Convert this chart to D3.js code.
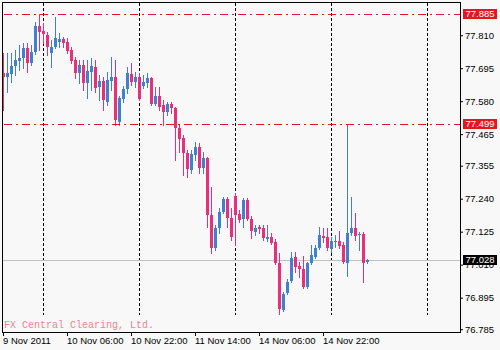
<!DOCTYPE html>
<html>
<head>
<meta charset="utf-8">
<script src="https://cdnjs.cloudflare.com/ajax/libs/d3/7.8.5/d3.min.js"></script>
<style>
  body { margin: 0; background: #f8f8f8; }
  svg { display: block; }
</style>
</head>
<body>
<svg id="chart"></svg>
<script>
// USDJPY H1, one bar per hour starting 9 Nov 2011 14:00
const opens = [
  77.677, 77.664, 77.674, 77.702, 77.719, 77.730, 77.765, 77.712, 77.751, 77.841,
  77.824, 77.810, 77.747, 77.768, 77.786, 77.796, 77.786, 77.758, 77.723, 77.677,
  77.705, 77.643, 77.681, 77.698, 77.629, 77.650, 77.576, 77.650, 77.664, 77.507,
  77.587, 77.622, 77.674, 77.646, 77.664, 77.632, 77.643, 77.660, 77.569, 77.597,
  77.566, 77.541, 77.569, 77.555, 77.486, 77.451, 77.398, 77.339, 77.392, 77.419,
  77.346, 77.381, 77.182, 77.067, 77.137, 77.193, 77.238, 77.172, 77.249, 77.186,
  77.168, 77.235, 77.168, 77.123, 77.140, 77.137, 77.099, 77.106, 77.088, 77.015,
  76.851, 76.910, 76.952, 77.036, 77.004, 76.994, 76.931, 77.015, 77.036, 77.067,
  77.109, 77.106, 77.064, 77.088, 77.092, 77.078, 77.015, 77.120, 77.137, 77.113,
  77.116, 77.018
];
const highs = [
  77.747, 77.747, 77.747, 77.758, 77.775, 77.782, 77.782, 77.775, 77.855, 77.885,
  77.852, 77.820, 77.793, 77.873, 77.817, 77.803, 77.800, 77.768, 77.733, 77.723,
  77.723, 77.723, 77.730, 77.723, 77.670, 77.664, 77.681, 77.733, 77.723, 77.597,
  77.632, 77.698, 77.712, 77.681, 77.677, 77.670, 77.677, 77.664, 77.629, 77.629,
  77.583, 77.576, 77.576, 77.559, 77.496, 77.461, 77.409, 77.409, 77.437, 77.433,
  77.402, 77.385, 77.280, 77.147, 77.207, 77.245, 77.245, 77.207, 77.259, 77.200,
  77.242, 77.242, 77.179, 77.147, 77.147, 77.147, 77.147, 77.120, 77.099, 77.050,
  76.914, 76.959, 77.053, 77.053, 77.018, 77.039, 77.018, 77.078, 77.078, 77.140,
  77.137, 77.137, 77.106, 77.113, 77.127, 77.088, 77.499, 77.245, 77.189, 77.123,
  77.123, 77.030
];
const lows = [
  77.548, 77.611, 77.646, 77.670, 77.688, 77.695, 77.681, 77.705, 77.744, 77.758,
  77.782, 77.740, 77.698, 77.765, 77.768, 77.768, 77.747, 77.712, 77.660, 77.643,
  77.618, 77.590, 77.618, 77.611, 77.583, 77.548, 77.566, 77.618, 77.496, 77.496,
  77.576, 77.608, 77.636, 77.629, 77.583, 77.625, 77.629, 77.566, 77.566, 77.548,
  77.496, 77.531, 77.538, 77.374, 77.402, 77.322, 77.315, 77.329, 77.374, 77.329,
  77.329, 77.140, 77.050, 77.060, 77.120, 77.189, 77.140, 77.095, 77.078, 77.158,
  77.140, 77.165, 77.102, 77.113, 77.120, 77.095, 77.092, 77.081, 77.011, 76.837,
  76.848, 76.907, 76.949, 76.984, 76.966, 76.928, 76.928, 77.011, 77.032, 77.064,
  77.088, 77.060, 77.053, 77.071, 77.067, 77.015, 76.970, 77.113, 77.095, 77.060,
  76.949, 77.016
];
const closes = [
  77.664, 77.677, 77.702, 77.723, 77.730, 77.765, 77.712, 77.751, 77.841, 77.820,
  77.813, 77.768, 77.768, 77.800, 77.796, 77.782, 77.754, 77.719, 77.677, 77.705,
  77.643, 77.684, 77.702, 77.625, 77.650, 77.583, 77.653, 77.664, 77.514, 77.590,
  77.622, 77.677, 77.646, 77.664, 77.587, 77.646, 77.660, 77.569, 77.597, 77.559,
  77.541, 77.569, 77.555, 77.486, 77.447, 77.398, 77.343, 77.395, 77.419, 77.346,
  77.381, 77.182, 77.067, 77.137, 77.193, 77.238, 77.172, 77.106, 77.182, 77.165,
  77.235, 77.168, 77.127, 77.137, 77.134, 77.102, 77.106, 77.085, 77.015, 76.855,
  76.907, 76.949, 77.032, 77.001, 76.994, 76.931, 77.015, 77.043, 77.067, 77.113,
  77.102, 77.067, 77.092, 77.092, 77.074, 77.018, 77.120, 77.137, 77.109, 77.116,
  77.015, 77.028
];

// price axis
const yTicks = [77.810, 77.695, 77.580, 77.465, 77.355, 77.240, 77.125, 77.010, 76.895, 76.785];

// time axis: bar index of each label
const xTickBars = [0, 16, 32, 48, 64, 80];
const xTickLabels = ["9 Nov 2011", "10 Nov 06:00", "10 Nov 22:00", "11 Nov 14:00", "14 Nov 06:00", "14 Nov 22:00"];

// day separators (bar index of 00:00)
const gridBars = [10, 34, 58, 82, 106];

// horizontal lines drawn on the chart
const levelPrices = [77.885, 77.499];
const bidPrice = 77.028;

const watermark = "FX Central Clearing, Ltd.";


class CandleChart {

  constructor(_config) {
    this.config = {
      parentElement: _config.parentElement,
      containerWidth: _config.containerWidth || 500,
      containerHeight: _config.containerHeight || 350
    }
    this.initVis();
  }

  initVis() {
    let vis = this;

    vis.svg = d3.select(vis.config.parentElement)
        .attr("width", vis.config.containerWidth)
        .attr("height", vis.config.containerHeight)
        .style("font-family", "'Liberation Sans', Arial, sans-serif");

    // plot box, in pixels
    vis.left = 2.5;
    vis.right = 460.5;
    vis.top = 2.5;
    vis.bottom = 332.5;

    vis.bars = opens.map((o, i) => ({ i: i, o: o, h: highs[i], l: lows[i], c: closes[i] }));

    // 4 px per hourly bar
    vis.xScale = d3.scaleLinear()
      .domain([0, 114])
      .range([3, 459]);

    vis.yScale = d3.scaleLinear()
      .domain([76.785, 77.810])
      .range([329.2, 35.2]);

    vis.render();
  }

  render() {
    let vis = this;
    const x = vis.xScale, y = vis.yScale;

    vis.svg.append("rect")
        .attr("width", vis.config.containerWidth)
        .attr("height", vis.config.containerHeight)
        .attr("fill", "#f8f8f8");

    vis.svg.append("defs").append("clipPath").attr("id", "plot-clip")
      .append("rect")
        .attr("x", vis.left).attr("y", vis.top)
        .attr("width", vis.right - vis.left).attr("height", vis.bottom - vis.top);

    // day separators
    vis.svg.selectAll(".grid")
      .data(gridBars)
      .join("line")
        .attr("class", "grid")
        .attr("x1", d => x(d) + 0.5)
        .attr("x2", d => x(d) + 0.5)
        .attr("y1", 3)
        .attr("y2", 315)
        .attr("stroke", "#000")
        .attr("stroke-dasharray", "3,2");

    // watermark
    vis.svg.append("text")
        .attr("x", 4)
        .attr("y", 328)
        .style("font-family", "'Liberation Mono', 'Courier New', monospace")
        .style("font-size", "10px")
        .attr("fill", "#e8868f")
        .text(watermark);

    // bid line
    vis.svg.append("line")
        .attr("x1", vis.left).attr("x2", vis.right)
        .attr("y1", Math.round(y(bidPrice)) + 0.5)
        .attr("y2", Math.round(y(bidPrice)) + 0.5)
        .attr("stroke", "#c0c0c0");

    // candles
    const plot = vis.svg.append("g").attr("clip-path", "url(#plot-clip)");
    const color = d => d.c >= d.o ? "#4080d0" : "#e8307a";

    plot.selectAll(".wick")
      .data(vis.bars)
      .join("line")
        .attr("class", "wick")
        .attr("x1", d => x(d.i) + 0.5)
        .attr("x2", d => x(d.i) + 0.5)
        .attr("y1", d => Math.round(y(d.h)))
        .attr("y2", d => Math.round(y(d.l)) + 1)
        .attr("stroke", color);

    plot.selectAll(".body")
      .data(vis.bars)
      .join("rect")
        .attr("class", "body")
        .attr("x", d => x(d.i) - 1)
        .attr("y", d => Math.round(y(Math.max(d.o, d.c))))
        .attr("width", 3)
        .attr("height", d => Math.max(1, Math.round(y(Math.min(d.o, d.c))) - Math.round(y(Math.max(d.o, d.c)))))
        .attr("fill", color)
        .attr("shape-rendering", "crispEdges");

    // level lines
    vis.svg.selectAll(".level")
      .data(levelPrices)
      .join("line")
        .attr("class", "level")
        .attr("x1", vis.left + 1).attr("x2", vis.right)
        .attr("y1", d => Math.round(y(d)) + 0.5)
        .attr("y2", d => Math.round(y(d)) + 0.5)
        .attr("stroke", "#e8102e")
        .attr("shape-rendering", "crispEdges")
        .attr("stroke-dasharray", "8,4,2,4");

    // frame
    vis.svg.append("rect")
        .attr("x", vis.left).attr("y", vis.top)
        .attr("width", vis.right - vis.left)
        .attr("height", vis.bottom - vis.top)
        .attr("fill", "none")
        .attr("stroke", "#000");

    // price axis
    const yAxisG = vis.svg.append("g")
        .attr("transform", `translate(${vis.right - 0.5},0)`)
        .call(d3.axisRight(y).tickValues(yTicks).tickSize(3).tickPadding(2).tickFormat(d3.format(".3f")));
    yAxisG.select(".domain").remove();
    yAxisG.selectAll("text")
        .style("font-family", "'Liberation Sans', Arial, sans-serif")
        .style("font-size", "9.5px")
        .attr("fill", "#000");

    // time axis
    const xAxisG = vis.svg.append("g")
        .attr("transform", `translate(0,${vis.bottom - 0.5})`)
        .call(d3.axisBottom(x).tickValues(xTickBars).tickSize(4).tickFormat((d, i) => xTickLabels[i]));
    xAxisG.select(".domain").remove();
    xAxisG.selectAll("text")
        .attr("text-anchor", "start")
        .attr("x", -0.5)
        .attr("y", 5)
        .style("font-family", "'Liberation Sans', Arial, sans-serif")
        .style("font-size", "9.5px")
        .attr("fill", "#000");

    // price tags on the axis
    const tags = levelPrices.map(p => ({ p: p, fill: "#e8141e" }))
      .concat([{ p: bidPrice, fill: "#000" }]);

    const tag = vis.svg.selectAll(".tag")
      .data(tags)
      .join("g")
        .attr("class", "tag")
        .attr("transform", d => `translate(463,${Math.round(y(d.p))})`);

    tag.append("rect")
        .attr("x", 0).attr("y", -5)
        .attr("width", 34).attr("height", 10)
        .attr("fill", d => d.fill);

    tag.append("text")
        .attr("x", 2.5)
        .attr("dy", "0.35em")
        .style("font-size", "9.5px")
        .attr("fill", "#fff")
        .text(d => d3.format(".3f")(d.p));
  }
}

let chart = new CandleChart({ parentElement: "#chart" });
</script>
</body>
</html>
